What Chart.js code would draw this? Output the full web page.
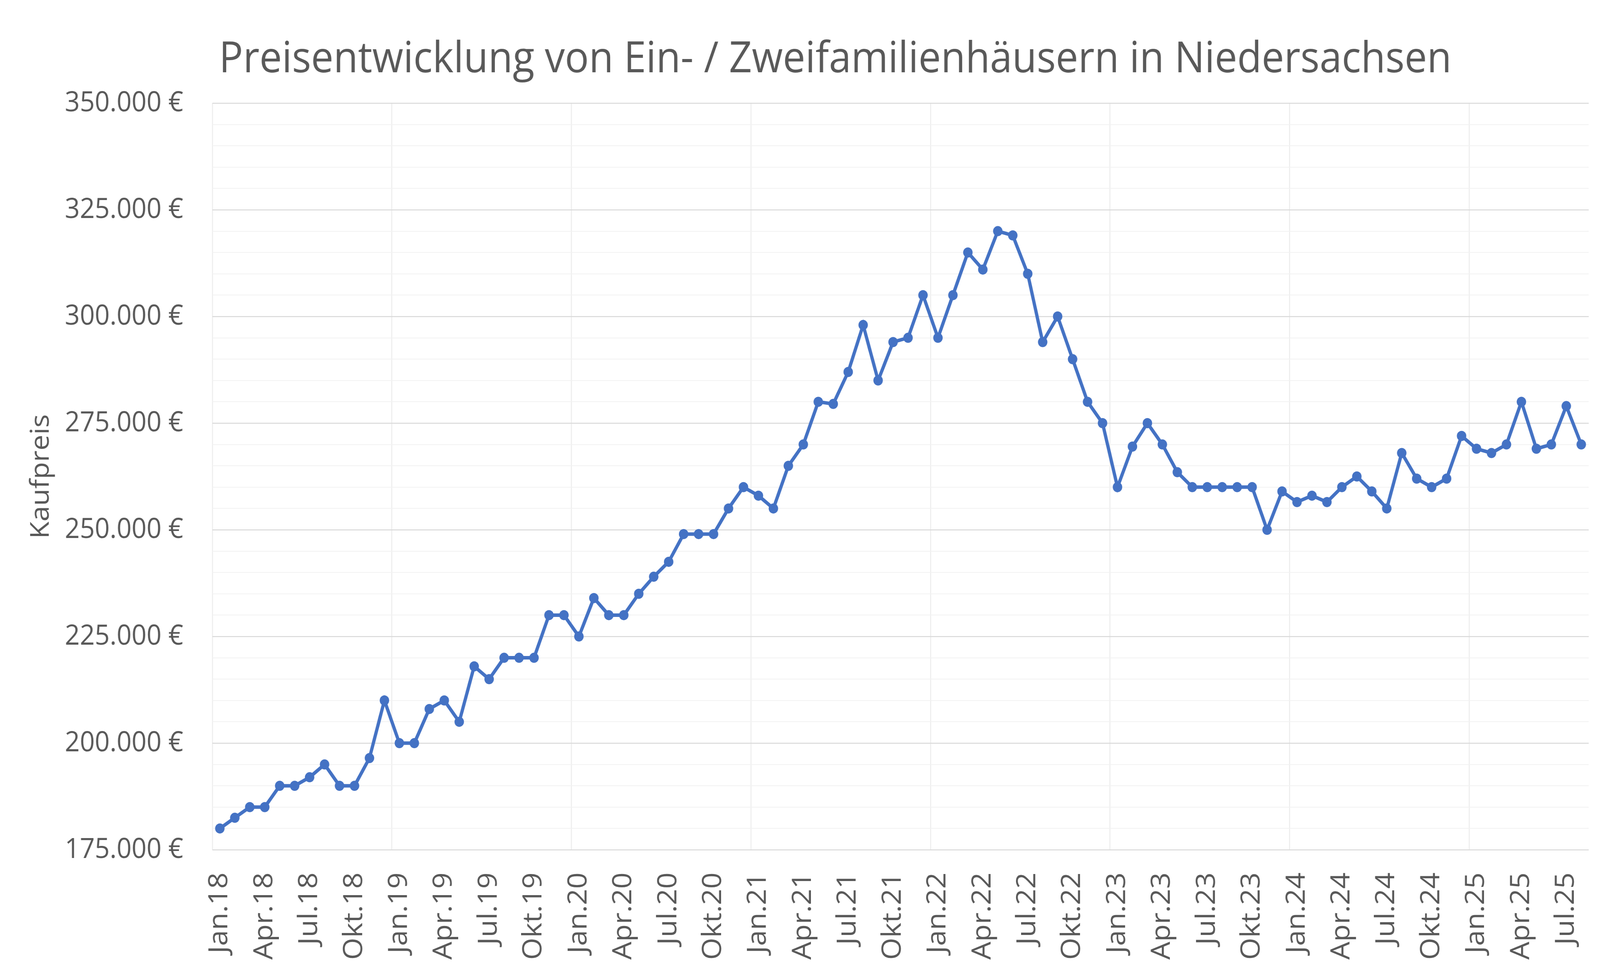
<!DOCTYPE html>
<html>
<head>
<meta charset="utf-8">
<script src="https://cdn.jsdelivr.net/npm/chart.js@4.4.1/dist/chart.umd.min.js"></script>
<style>
  html, body { margin: 0; padding: 0; background: #fff; overflow: hidden; }
  #wrap { width: 4400px; height: 2475px; transform-origin: 0 0; }
</style>
</head>
<body>
<div id="wrap"><canvas id="chart"></canvas></div>
<script>
// Monatsnamen und Jahre für die Kategorien
const monthNames = ['Jan.', 'Feb.', 'Mär.', 'Apr.', 'Mai', 'Jun.', 'Jul.', 'Aug.', 'Sep.', 'Okt.', 'Nov.', 'Dez.'];
const years = ['18', '19', '20', '21', '22', '23', '24', '25'];
const lastMonthCount = 8; // 2025 bis August

// Kaufpreise (Euro), Jan.18 bis Aug.25
const prices2018 = [180000, 182500, 185000, 185000, 190000, 190000, 192000, 195000, 190000, 190000, 196500, 210000];
const prices2019 = [200000, 200000, 208000, 210000, 205000, 218000, 215000, 220000, 220000, 220000, 230000, 230000];
const prices2020 = [225000, 234000, 230000, 230000, 235000, 239000, 242500, 249000, 249000, 249000, 255000, 260000];
const prices2021 = [258000, 255000, 265000, 270000, 280000, 279500, 287000, 298000, 285000, 294000, 295000, 305000];
const prices2022 = [295000, 305000, 315000, 311000, 320000, 319000, 310000, 294000, 300000, 290000, 280000, 275000];
const prices2023 = [260000, 269500, 275000, 270000, 263500, 260000, 260000, 260000, 260000, 260000, 250000, 259000];
const prices2024 = [256500, 258000, 256500, 260000, 262500, 259000, 255000, 268000, 262000, 260000, 262000, 272000];
const prices2025 = [269000, 268000, 270000, 280000, 269000, 270000, 279000, 270000];

const yMin = 175000;
const yMax = 350000;

const categories = [];
years.forEach((y, i) => {
  const n = i === years.length - 1 ? lastMonthCount : 12;
  for (let m = 0; m < n; m++) categories.push(monthNames[m] + y);
});
const prices = [].concat(prices2018, prices2019, prices2020, prices2021, prices2022, prices2023, prices2024, prices2025);

// Fenster ist evtl. schmaler als 4400px -> ganze Grafik auf das Fenster strecken
document.getElementById('wrap').style.transform =
  'scale(' + (window.innerWidth / 4400) + ',' + (window.innerHeight / 2475) + ')';

const textColor = '#595959';
const fontFamily = '"Open Sans", "Noto Sans", sans-serif';

const euro = (v) => String(v).replace(/\B(?=(\d{3})+(?!\d))/g, '.') + ' €';

new Chart(document.getElementById('chart'), {
  type: 'line',
  data: {
    labels: categories,
    datasets: [{
      label: 'Kaufpreis',
      data: prices,
      borderColor: '#4472C4',
      backgroundColor: '#4472C4',
      borderWidth: 9,
      pointRadius: 13,
      pointBorderWidth: 0,
      pointBackgroundColor: '#4472C4',
      tension: 0,
    }],
  },
  options: {
    responsive: true,
    maintainAspectRatio: false,
    devicePixelRatio: 1,
    animation: false,
    layout: { padding: { left: 0, right: 31, top: 0, bottom: 0 } },
    plugins: {
      legend: { display: false },
      tooltip: { enabled: false },
      title: {
        display: true,
        text: '\u2009Preisentwicklung von Ein- / Zweifamilienhäusern in Niedersachsen',
        align: 'start',
        fullSize: false,
        color: textColor,
        font: { family: fontFamily, size: 110, weight: 'normal' },
        padding: { top: 88, bottom: 44 },
      },
    },
    scales: {
      x: {
        offset: true,
        grid: {
          offset: true,
          drawTicks: false,
          lineWidth: 2.5,
          color: (ctx) => (ctx.index % 12 === 0 ? '#ebebeb' : 'rgba(0,0,0,0)'),
        },
        border: { display: false },
        ticks: {
          autoSkip: false,
          minRotation: 90,
          maxRotation: 90,
          padding: 58,
          color: textColor,
          font: { family: fontFamily, size: 73 },
          callback: function (value, index) {
            return index % 3 === 0 ? this.getLabelForValue(value) : '';
          },
        },
        afterFit: (scale) => {
          scale.height = 300;
          // kein Platz für die gedrehten Randlabels reservieren
          scale.paddingLeft = 0;
          scale.paddingRight = 0;
        },
      },
      y: {
        min: yMin,
        max: yMax,
        grid: {
          drawTicks: false,
          lineWidth: (ctx) => (ctx.tick && ctx.tick.value % 25000 === 0 ? 2.5 : 2),
          color: (ctx) => (ctx.tick && ctx.tick.value % 25000 === 0 ? '#d9d9d9' : '#f2f2f2'),
        },
        border: { display: false },
        ticks: {
          stepSize: 5000,
          autoSkip: false,
          padding: 80,
          color: textColor,
          font: { family: fontFamily, size: 72 },
          callback: (v) => (v % 25000 === 0 ? euro(v) : ''),
        },
        title: {
          display: true,
          text: 'Kaufpreis',
          color: textColor,
          font: { family: fontFamily, size: 72 },
          padding: { top: 70, bottom: 0 },
        },
        afterFit: (scale) => { scale.width = 584; },
      },
    },
  },
});
</script>
</body>
</html>
